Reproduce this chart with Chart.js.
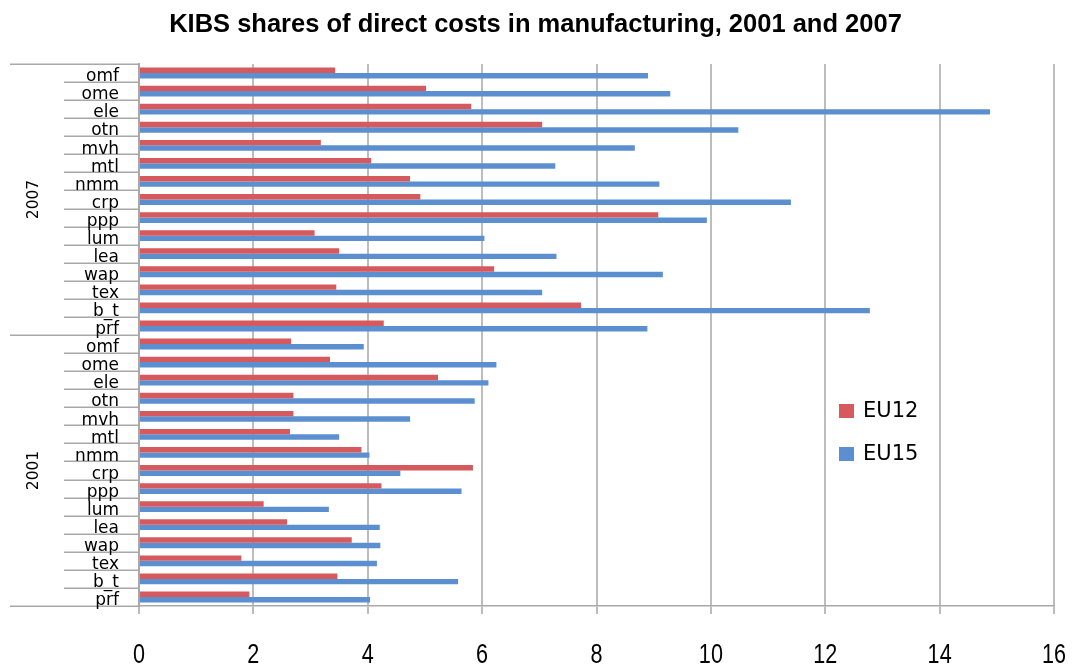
<!DOCTYPE html>
<html><head><meta charset="utf-8">
<script src="https://cdn.jsdelivr.net/npm/chart.js@4.4.0/dist/chart.umd.min.js"></script>
<style>html,body{margin:0;padding:0;background:#fff;overflow:hidden}</style>
</head><body>
<canvas id="c" width="1074" height="666"></canvas>
<script>
const chartTitle = 'KIBS shares of direct costs in manufacturing, 2001 and 2007';
const years = ['2007', '2001'];
const sectors = ['omf','ome','ele','otn','mvh','mtl','nmm','crp','ppp','lum','lea','wap','tex','b_t','prf'];
const seriesNames = ['EU12', 'EU15'];
const eu12_2007 = [3.43, 5.02, 5.81, 7.05, 3.18, 4.06, 4.74, 4.92, 9.08, 3.07, 3.50, 6.21, 3.45, 7.73, 4.28];
const eu15_2007 = [8.90, 9.29, 14.88, 10.48, 8.67, 7.28, 9.10, 11.40, 9.93, 6.04, 7.30, 9.16, 7.05, 12.78, 8.89];
const eu12_2001 = [2.66, 3.34, 5.23, 2.70, 2.70, 2.64, 3.89, 5.84, 4.24, 2.18, 2.59, 3.72, 1.79, 3.47, 1.93];
const eu15_2001 = [3.93, 6.25, 6.11, 5.87, 4.74, 3.50, 4.03, 4.57, 5.64, 3.32, 4.21, 4.22, 4.16, 5.58, 4.04];
const xTickValues = [0, 2, 4, 6, 8, 10, 12, 14, 16];

const eu12ByYear = { '2007': eu12_2007, '2001': eu12_2001 };
const eu15ByYear = { '2007': eu15_2007, '2001': eu15_2001 };
const labels = [], eu12 = [], eu15 = [];
years.forEach(yr => sectors.forEach((s, i) => {
  labels.push(s);
  eu12.push(eu12ByYear[yr][i]); eu15.push(eu15ByYear[yr][i]);
}));

const RED = '#d65a5d', BLUE = '#5b8fcf', AXIS = '#a8a8a8';

const whiteBg = {
  id: 'whiteBg',
  beforeDraw(chart) {
    const c = chart.ctx; c.save(); c.fillStyle = '#fff';
    c.fillRect(0, 0, chart.width, chart.height); c.restore();
  }
};

const catAxis = {
  id: 'catAxis',
  afterDraw(chart) {
    const { ctx, chartArea, scales: { x, y } } = chart;
    const n = labels.length, per = sectors.length;
    const step = y.getPixelForValue(1) - y.getPixelForValue(0);
    const bound = i => y.getPixelForValue(i) - step / 2;
    ctx.save();
    ctx.strokeStyle = AXIS; ctx.lineWidth = 1.5;
    for (let i = 0; i <= n; i++) {
      const yy = Math.round(bound(i)) + 0.25;
      const x0 = (i % per === 0) ? 10 : 64;
      ctx.beginPath(); ctx.moveTo(x0, yy); ctx.lineTo(chartArea.left, yy); ctx.stroke();
    }
    ctx.fillStyle = '#000';
    ctx.font = '17px "DejaVu Sans"';
    ctx.textAlign = 'right'; ctx.textBaseline = 'alphabetic';
    for (let i = 0; i < n; i++) {
      ctx.save(); ctx.translate(119, bound(i + 1) - 0.8); ctx.scale(1, 1.08);
      ctx.fillText(labels[i], 0, 0); ctx.restore();
    }
    ctx.font = '15.5px "DejaVu Sans"';
    ctx.textAlign = 'center'; ctx.textBaseline = 'middle';
    years.forEach((yr, g) => {
      const cy = (bound(g * per) + bound((g + 1) * per)) / 2;
      ctx.save(); ctx.translate(34, cy); ctx.rotate(-Math.PI / 2);
      ctx.fillText(yr, 0, 0); ctx.restore();
    });
    // x tick labels (narrow, tall digits like the reference)
    ctx.font = '27px "Liberation Sans"';
    ctx.textAlign = 'center'; ctx.textBaseline = 'alphabetic';
    x.ticks.forEach(t => {
      const px = x.getPixelForValue(t.value);
      ctx.save(); ctx.translate(px, 663); ctx.scale(0.8, 1.02);
      ctx.fillText(String(t.value), 0, 0); ctx.restore();
    });
    ctx.restore();
  }
};

const customLegend = {
  id: 'customLegend',
  afterDraw(chart) {
    const ctx = chart.ctx;
    const rows = [404, 447];
    ctx.save();
    ctx.font = '21px "DejaVu Sans"';
    ctx.textAlign = 'left'; ctx.textBaseline = 'middle';
    chart.data.datasets.forEach((ds, i) => {
      ctx.fillStyle = ds.backgroundColor;
      ctx.fillRect(839, rows[i], 15, 14);
      ctx.fillStyle = '#000';
      ctx.fillText(ds.label, 863, rows[i] + 7.5);
    });
    ctx.restore();
  }
};

new Chart(document.getElementById('c'), {
  type: 'bar',
  data: {
    labels: labels,
    datasets: [
      { label: seriesNames[0], data: eu12, backgroundColor: RED, categoryPercentage: 0.6, barPercentage: 1.0 },
      { label: seriesNames[1], data: eu15, backgroundColor: BLUE, categoryPercentage: 0.6, barPercentage: 1.0 }
    ]
  },
  options: {
    indexAxis: 'y',
    responsive: false,
    devicePixelRatio: 1,
    animation: false,
    layout: { padding: { left: 17, right: 20, top: 0, bottom: 0 } },
    plugins: {
      legend: { display: false },
      tooltip: { enabled: false },
      title: {
        display: true, text: chartTitle, color: '#000',
        font: { family: '"Liberation Sans", Arial, sans-serif', size: 25.5, weight: 'bold', lineHeight: 1.2 },
        padding: { top: 10, bottom: 23.4 }
      }
    },
    scales: {
      x: {
        type: 'linear', min: 0, max: 16,
        afterBuildTicks(s) { s.ticks = xTickValues.map(v => ({ value: v })); },
        grid: { color: '#bdbdbd', lineWidth: 2, tickLength: 8, drawTicks: true },
        border: { display: true, color: AXIS, width: 1.5 },
        ticks: { display: false },
        afterFit(s) { s.height = 60; s.paddingLeft = 0; s.paddingRight = 0; }
      },
      y: {
        type: 'category',
        grid: { display: false },
        border: { display: true, color: AXIS, width: 2 },
        ticks: { display: false },
        afterFit(s) { s.width = 122; s.paddingTop = 0; s.paddingBottom = 0; }
      }
    }
  },
  plugins: [whiteBg, catAxis, customLegend]
});
</script>
</body></html>
